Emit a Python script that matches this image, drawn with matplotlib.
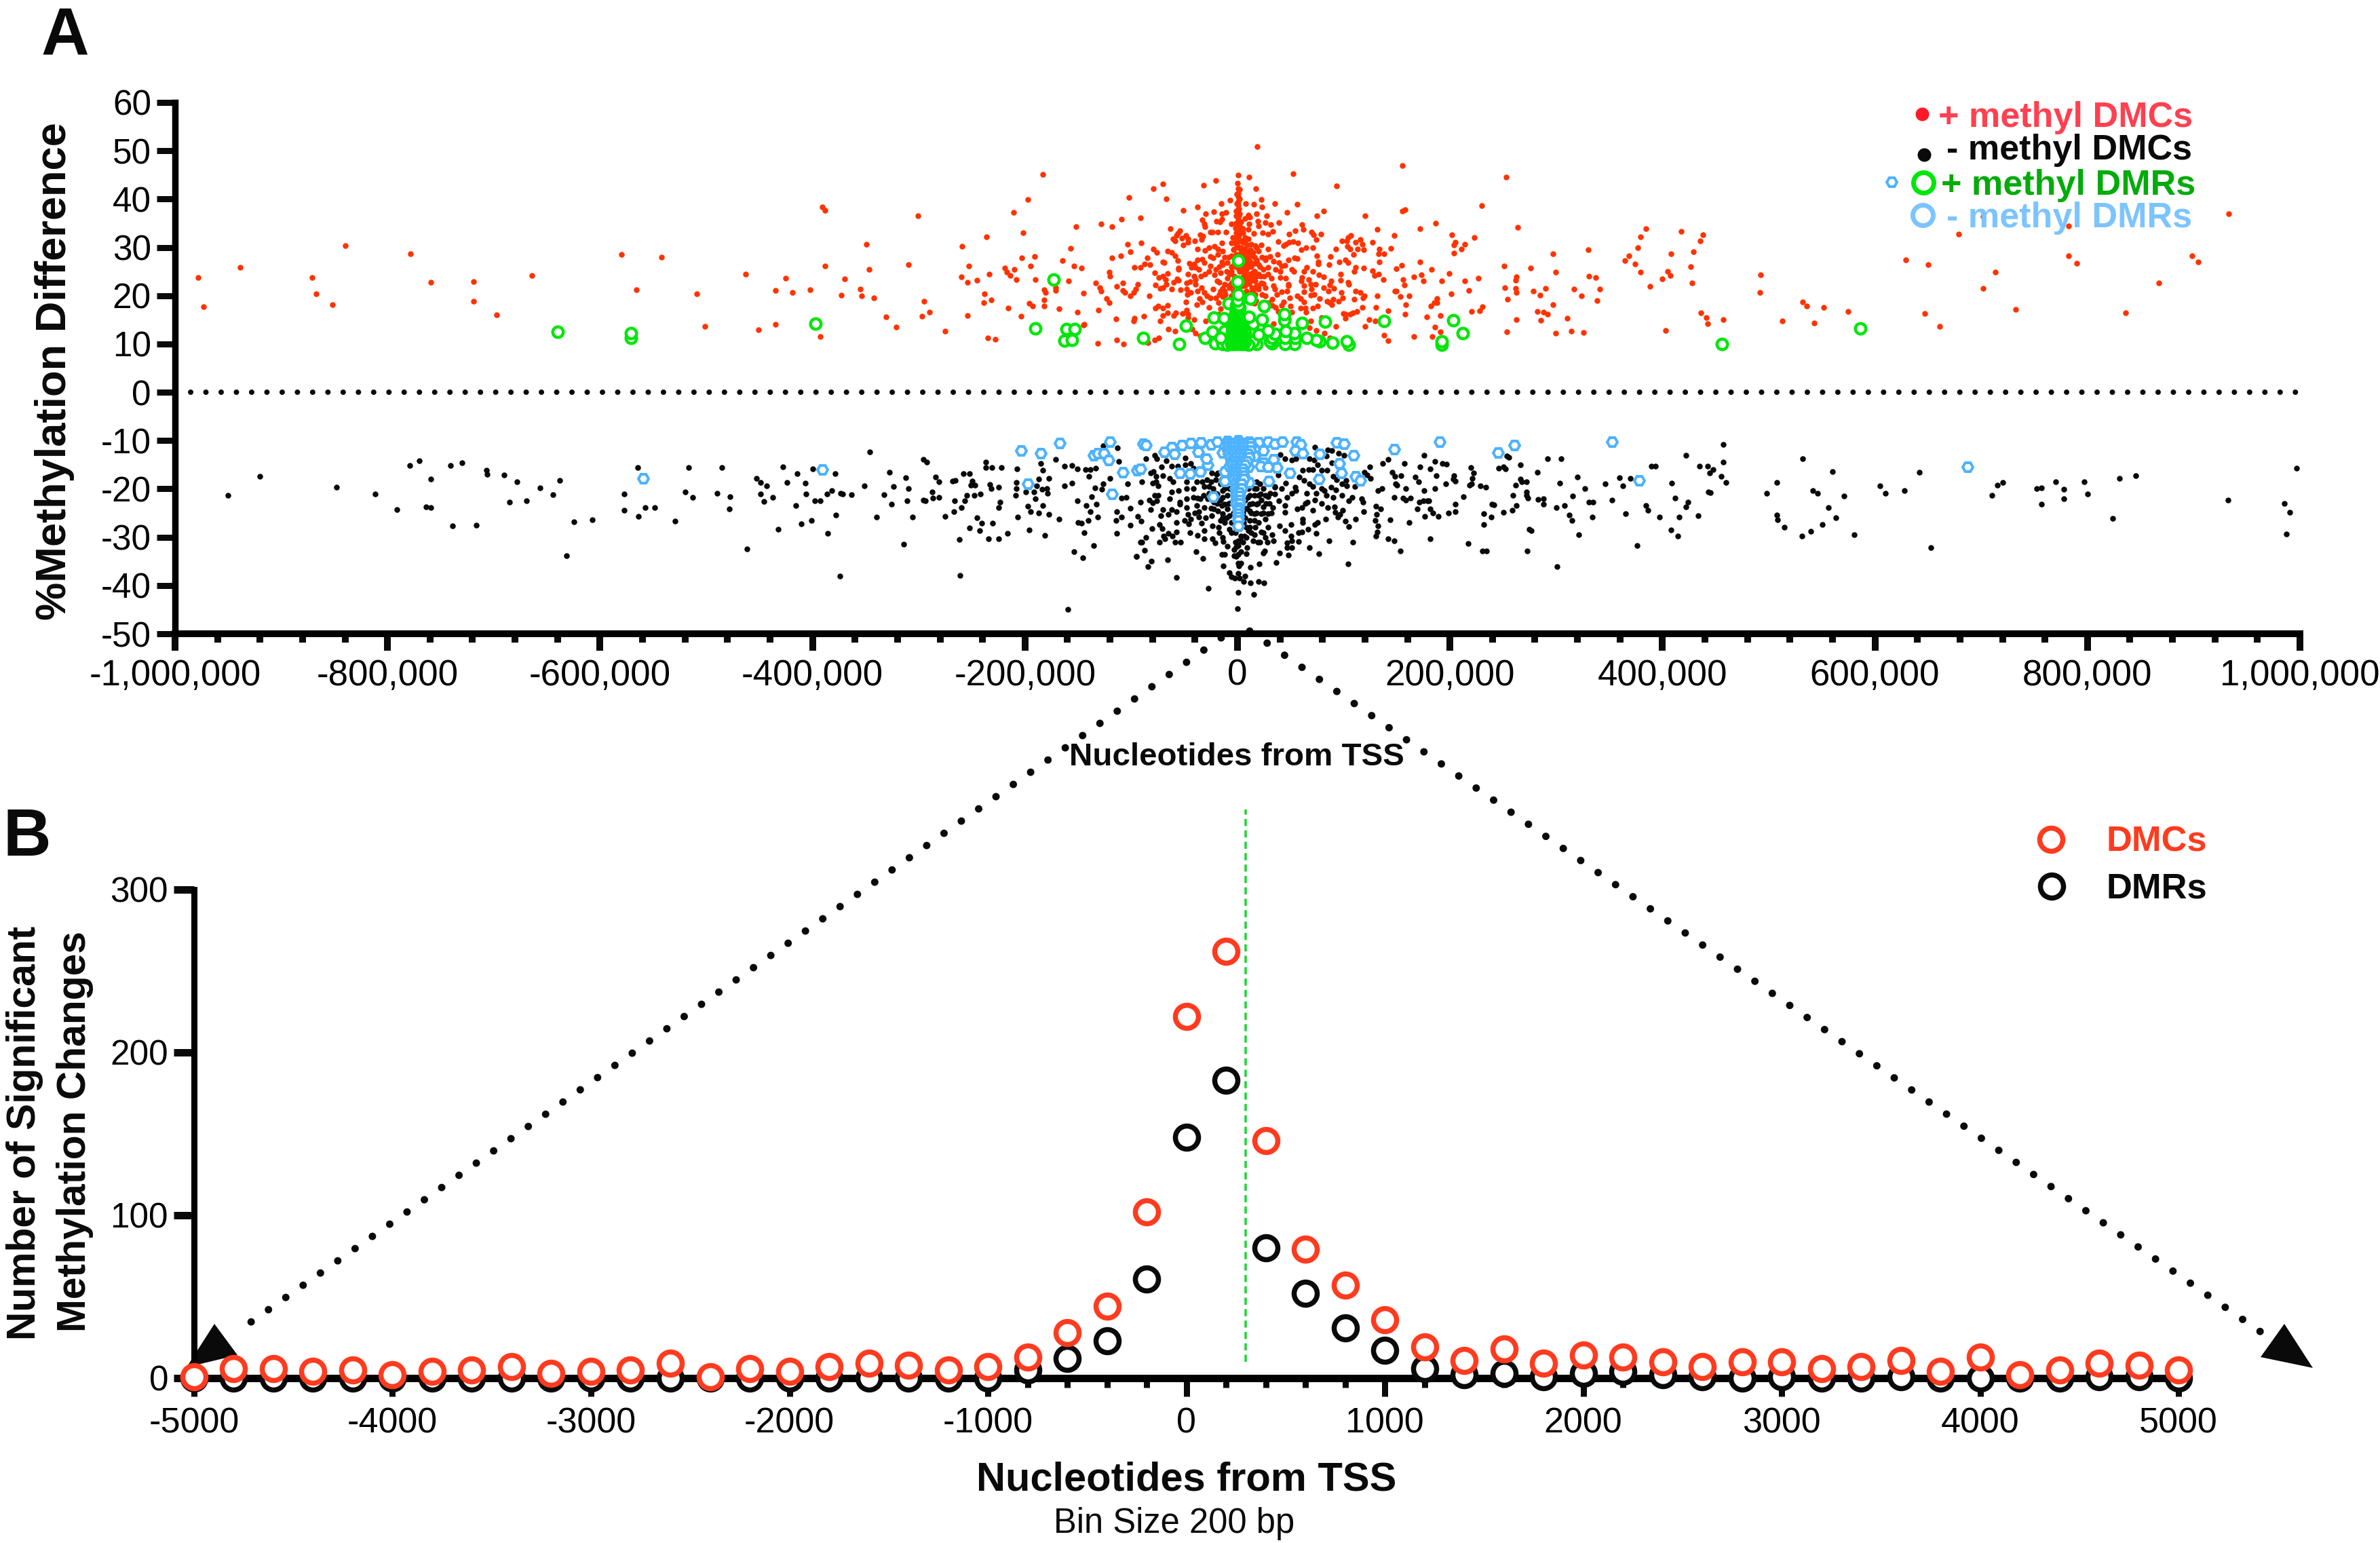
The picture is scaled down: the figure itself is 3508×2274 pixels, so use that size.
"""
Methylation changes around the TSS, two panels.

Panel A: %methylation difference of DMCs and DMRs, panel B: counts in 200 bp bins.
"""

import matplotlib
matplotlib.use("Agg")
import matplotlib.pyplot as plt
import numpy as np
from matplotlib.lines import Line2D
from matplotlib.patches import Polygon

# panel A, (position in thousands of nt, % difference)
up_dmc = [(-978.5,23.7),(-973,17.7),(-938.5,25.8),(-870.7,23.7),(-867,20.4),(-851.6,18.1),(-839.4,30.4),(-778.4,28.7),(-759,22.8),(-719,22.9),(-719,18.9),(-697,16),(-664,24.2),
    (-580,28.6),(-542,28),(-566,21.2),(-509,20.4),(-501,13.6),(-463,24.4),(-451,13),(-435,14),(-435,21.1),(-425,23.6),(-419,20.6),(-402,21.2),(-393,11.5),(-391,38.3),(-388,37.6),(-388,26.1),(-373,20.1),(-370,23.5),(-355,21.4),(-354,19.9),(-349,30.7),(-347,25.4),(-342,19.6),(-331,15.6),(-321,13.5),(-310,26.4),(-301,36.6),(-297,15.7),(-295,18.8),(-290,16.6),(-275,12.6),
    (-259,30.2),(-253,26.1),(-260,23.9),(-254,22.8),(-254,15.9),(-245,23.2),(-238,20.4),(-239,18.6),(-232,19.1),(-236,32.2),(-234,24.5),(-235,11.2),(-228,11),(-216,17.4),(-219,25.7),(-217,24.9),(-214,24.2),(-210,25.5),(-208,23.3),(-211,37.2),(-197,39.9),(-202,33),(-203,27.8),(-204,15.8),(-195,26.2),(-196,18.4),(-193,17.8),(-191,28.1),(-190,23.4),(-183,45.1),(-182,19.1),(-182,17.9),(-182,21.2),(-181,20.7),(-171,21.6),(-171,21.1),(-168,17.3),(-165,27.3),(-159,23.1),(-157,29.8),(-154,26.1),(-152,34.3),(-151,16.6),(-147,25.7),(-145,20.5),(-145,13.9),(-144.5,14.1),
    (-131.8,10.1),(-113.5,10.9),(-107,10),(-84,10.2),(-78,10.8),(-74,11.2),(-131,17),(-114,15.2),(-98,14.8),(-97,15.3),(-88,15.7),(-73,14.7),(-65,13.1),(-59,12.7),(-133.5,22.6),(-129.5,21.6),(-128.5,21),(-123,19.4),(-121,18.5),(-121,24.9),(-120,24.1),(-113.5,21.9),(-108,22.7),(-108,21.1),(-106,20.7),(-101,20),(-98,20.7),(-96,21.3),(-94,22.3),(-83,19.9),(-77,17.5),(-74.4,17.9),(-70,17.5),(-66,18),(-70,15.9),(-66,16.4),(-60,15.9),(-58,16.4),(-52,16.3),(-48.5,18.7),(-48,17),(-46.5,16.1),(-46.5,15.4),(-41,15),(-43,13.1),(-39.5,12.2),(-35,11.7),(-30,14.8),(-27,17.6),(-38,18.2),(-36,19.4),(-33,18.7),(-37.4,20.9),(-34,21.6),(-31,20.6),(-29,19.9),(-25.5,19.6),(-23,21.3),(-20.4,19.6),(-18,18.5),(-16,17.3),(-18,16.1),(-17,20.3),(-14,21.5),(-11.5,20.3),
    (-128.4,34.9),(-118,34.3),(-109,35.8),(-102,40.4),(-91,36.1),(-79.5,42.2),(-70,43.2),(-67,40.1),(-51.4,37.6),(-37.6,38.4),(-31.7,42.8),(-20.6,43.9),(-15.3,39.1),(-7.2,39.8),(-30,37),(-22.5,37.4),(-14.5,37),(-11,37.3),(-33.2,35.7),(-31.5,34.9),(-30.4,34.3),(-15,35.9),(-16.6,35.3),(-20,35.4),(-5.5,34.8),(-63.4,33.9),(-54,33.4),(-56,32.9),(-57.6,32.5),(-60.8,31.7),(-58.7,31.3),(-52.3,31.9),(-48.5,32.4),(-46.6,31.8),(-46.6,31),(-51.2,30.5),(-40,31.3),(-35.3,32.6),(-32.5,32.3),(-33.6,31.6),(-25.7,33.1),(-23.6,33.2),(-18.3,33.1),(-11,33.1),(-103.7,30.6),(-90.6,30.9),(-100.8,29.1),(-109.7,28.3),(-118,27.8),(-85.2,27.8),(-87.4,26.6),(-82.3,26.4),(-97,25.9),(-91.4,25.9),(-79.5,29.7),(-76,29),(-66,29.2),(-62,28.9),(-58.7,28.3),(-56,27.2),(-70.4,27),(-68.7,26.8),(-55.5,25.7),(-55.5,25.4),(-77.8,24.7),(-65.9,24.6),(-70.4,24),(-74,23.8),(-67.5,23.4),(-67,22.4),(-77.4,22.2),(-73,21.5),(-70.4,21.7),(-62,21.4),(-60.2,22.8),(-57,23.5),(-55.5,23.2),(-53.4,21.2),(-48,21.3),(-47.4,20.2),(-43.8,20.7),(-48,22.7),(-44.9,22.9),(-39.5,22.4),(-46.6,24.4),(-40.6,24),(-39.5,23.4),(-34.2,24),(-30.6,24.5),(-45.3,26.7),(-43.2,25.9),(-40.6,26.5),(-39.5,25.9),(-37.4,27.4),(-33.2,27.6),(-36.3,25.5),(-31.5,26.9),(-25.7,26.2),(-25.7,28.1),(-23,27.8),(-18.3,28.5),(-14,29.2),(-37.4,29.7),(-30.6,29.4),(-27,29.9),(-21.5,30.2),(-18.3,29.7),(-15,30.9),(-26.8,25),(-20.4,25.5),(-16.2,24.8),(-21.5,24.3),(-14,26.4),(-9.8,26.9),(-17.2,22.8),(-9.8,23.6),(-11.9,22.4),(-5.5,30.9),(-1.3,30.6),(-4.5,32),(-3.4,29.7),
    (0.6,44.9),(-0.2,43.3),(0.6,42.1),(0.6,41.2),(0.9,40.5),(0.4,39.5),(0.9,38.8),(0.4,38),(0.9,37.2),(1.5,36.5),(0.4,35.7),(1.5,35),(0.4,34.2),(1.9,33.5),(-1,33),(1.5,32.5),(-1.2,32),(2,31.5),(-0.5,31),(1,30),(3,29),(-1,28.5),(1,27.8),(3,27),(-2,26),(1,25.5),(6,27),(8,26.5),(10,27.5),(13,26),(14,24.8),(6,24),(9,23),(3,22),(7,22),(11,22.5),(5,20.5),(9,20.5),(12,20.5),(18,22),(6,29),(10,29),(14,28.5),(-3,24),(-3,22),(-8,22),(-6,20),(-2,20),
    (2,28),(4,27),(6,26),(8,28),(10,26),(12,27),(14,26.5),(16,28),(18,27),(4,30),(7,31),(9,30.5),(12,29.5),(15,29),(2,25),(5,23),(7,25),(10,24),(12,23),(14,24),(16,25),(18,24),(2,21),(5,22),(8,21),(11,20),(14,21),(17,19),(3,26.5),(-2,27),(-4,29.5),(-2,31),(-2,34),(-1,35),(2,34.5),(-1,36.5),(1.5,38),(-0.8,39),(2,33),(-6,26),(-8,28),(-4,23),(-10,25),(-12,28),(-15,27),(-17,26),(-19,23),(-12,21),(-16,21),(-4,21),(20,22),(22,24),(24,22.5),(21,26),(23,28),(18,30),(25,24),(9,19),(13,18.5),(17,21.5),(1.9,42),(-0.8,41),(1.9,40),(-1,37.5),(2.2,37),(-1.5,35),(3,34),
    (10.6,44.5),(17.2,42.2),(18.3,50.9),(52.3,45.3),(93.3,42.7),(22.3,39.9),(22.7,38.4),(7.9,39),(15.3,38.9),(34.9,39),(56.5,38.9),(46.8,37.3),(74.6,36.6),(80.8,37.5),(119.9,36.5),(10.4,36.7),(11.5,36.3),(7.2,36),(17.9,36.9),(27.2,36.6),(19.3,35.4),(19.5,34.5),(10.6,34.8),(26.1,35.2),(31.5,34.7),(39.1,35.2),(10.2,33.7),(15.1,32.9),(23.8,33),(28.5,32.8),(33,33.3),(48.3,32.7),(54.2,33.4),(60.8,34.7),(62.1,33.7),(69.5,33.2),(71.4,32.6),(78.4,32.7),(74,31.6),(38.1,31.2),(43.4,30.3),(45.5,30.6),(48.7,31.1),(52.5,31.2),(56.8,30.9),(64.2,29.9),(60,29.5),(71.2,29.9),(92.5,29.7),(98.2,31.4),(102.5,31.3),(104,32),(106.5,32.5),(110.8,31),(115.6,31.6),(117.5,30.7),(113.3,29.7),(118.6,29.5),(103.3,30.2),(106.3,29.6),(109.5,28.6),(127.3,31.1),(131.6,33.7),(133.7,29.7),(133,28.7),(138,28.7),(74.6,28.2),(87.2,28.1),(86.1,26.4),(75.9,27),(75.7,26.5),(96,27),(101.8,27.4),(104,26.9),(111,25.9),(110,25),(119,25.7),(133.3,27),(127.3,25.2),(133,24.5),(128.8,24.2),(137,23.4),(97.2,24.5),(97,23.2),(104,22.8),(104.6,22.4),(111,20.9),(115.6,20.7),(119.3,20),(118,19.6),(110,19.3),(131.6,19.9),(130.5,17.6),(117.6,17.6),(112.2,16.8),(108.4,16.5),(105.7,16.1),(101.8,16.1),(99.7,16.3),(101.8,15.3),(124,15),(129.5,14.8),(120.1,13.6),(138,11.8),(92.3,13.7),(97.6,20.6),(99,19.5),(95.4,18.9),(88,23),(90.6,21.5),(85.5,21),(80.8,21.7),(86.9,22.2),(84.2,18.9),(87,18.5),(90.1,19.2),(89,18.1),(75.3,17.8),(71,17.5),(77,19.4),(71,25),(76.4,24.3),(81,23.9),(73.6,22.4),(68.9,22.4),(69.9,21.3),(68.9,20.1),(72,20.3),(66.8,23.4),(60.4,23.8),(62.5,25),(65,25.8),(60,23.1),(62.5,22),(62.5,20.8),(56.5,19.9),(59.2,19.4),(62.5,18.7),(59.2,17.5),(63.6,17.5),(64.6,16.6),(68.9,14.8),(67.8,13.3),(74.2,12.8),(82,12.3),(79.5,15.4),(87,11.2),(49.7,17.8),(50.8,16.6),(49.1,19.6),(43.4,18.7),(41.2,18),(35.9,17.6),(32.7,19.2),(32.7,18),(38.1,16.7),(47.6,15.2),(33.8,14.2),(37,20.3),(41.2,20.8),(47.6,22.4),(45.5,23.6),(40.2,23.8),(47.6,22),(31.7,23.6),(33.8,22.1),(34.9,21.3),(46.6,21),(50.8,25.5),(53,25),(45,26.3),(40.2,25),(35.9,25.5),(39.1,26.9),(41.2,26.2),(33.8,27.1),(30.6,28.1),(27,27.8),(47.6,27.4),(53.6,27.8),(56.1,27.7),(37.4,28.6),(28.5,29.7),(22.1,30.5),(16.8,30.4),(20,29.2),(26.4,27.4),(17.9,27.4),(11.5,28.1),(8.3,29.2),(12.5,30.6),(7.2,32),(5.1,31.1),(10.4,31.8),(19.9,26.4),(15.7,26.7),(28.5,25.9),(28.5,24.5),(24.2,25.5),(8.3,25.5),(11.5,24.5),(15.7,25),(13.6,23.6),(19.9,24.5),(22.1,22.7),(16.8,23.1),(13.6,21.7),(19.9,21.3),(26.4,21.7),(23.2,20.3),(16.8,20.3),(7.2,24.1),(4,25),(3,23.6),(-5.5,25),(-7.7,24.5),(-3.4,26.4),(-5.5,28.3),(5.1,28.3),(0.9,30.2),(7.2,29.7),(3,31.3),(-0.2,33),(5.1,33),(5.1,33.9),(3,35.3),(-5.5,22.7),(26.4,19.9),(28.5,18.5),(26.4,17),(22.1,18),(15.7,19.9),(15.7,18.4),(-14,19.8),(-7.7,21.7),
    (155,47),(253,44.6),(230,38.7),(155,37.5),(157.5,37.8),(186.5,35),(171.5,33.8),(147.5,32.5),(202,32.6),(223,32),(263.6,34.1),(205,31),(204,30.5),(214,30.7),(210.5,29.6),(204,28.8),(144.5,29.8),(171.5,27),(154.6,26.3),(149.4,25.6),(182.5,25.4),(199,24.6),(172.8,24.3),(166.3,23.9),(156,23.3),(175,23),(157,22.2),(192,23.1),(214,23.1),(227,23.6),(217.7,21.1),(201.4,20.4),(148.4,20.9),(149.7,20.9),(153.3,19.8),(161.7,19.9),(188,19.4),(188,18.6),(185,18.5),(182,17.8),(158.5,18.1),(158,16.2),(141.6,16.9),(178,15.6),(191,15.9),(220,16.7),(227.8,16.9),(230.7,17.7),(186,13.5),(190.7,12.5),(166,11.6),(183.5,11.6),(141.6,10.7),(251,26.2),(251.9,21.7),(254,19.3),(262,23.2),(262.3,23.9),(262,21.5),(262.6,20.7),(262.6,15),(253.5,12.5),(276,25.7),(278.6,20.9),(284.8,20.1),(289.6,21.5),(297,28.7),(299.4,24.9),(297,18.2),(282.5,16.8),(288,16.6),(292,16.1),(285.4,14.9),(299.7,12.3),(310.5,15.3),(314,12.6),(325.4,12.4),(317,21.4),(324,19.9),(330,29.5),(331,24.1),(337,23.7),(341,21.4),(338.7,19),(364.5,27.2),(368.4,28.3),(374.5,26.5),(379.4,24.9),(377,30),(379.4,32.2),(384.7,33.9),(388,21.9),(400,23.5),(405,25),(407.4,24.2),(408,28.7),(403,12.8),(417.5,33.3),(426.6,26),(429,29.1),(427.6,22.7),(435.7,31.4),(438,32.6),(436,16.4),(441,15.4),(442.3,14.2),(457,15),(492.4,24.3),(492,20.6),(512.9,14.7),(531.7,18.7),(535.7,17.9),(542.5,14.4),(552,17.6),(574.4,16.8),
    (629,27.4),(650,26.4),(647,16.3),(660.7,13.7),(678.7,32.7),(701.8,21.5),(713,24.9),(732.5,17.2),(702,36.4),(782,34.4),(782,28.3),(790,26.7),(836,16.5),(867,22.7),(898.3,28.3),(904.2,27),(932.7,36.9)]

down_dmc = [(-950,-21.3),(-920,-17.4),(-848,-19.6),(-811.6,-21.1),(-791,-24.3),(-779,-15.1),(-770,-14.2),(-764,-23.7),(-759.4,-23.8),(-759.4,-18),(-741,-15.2),(-739,-27.6),(-730,-14.6),(-716.4,-27.5),(-707,-16.1),(-706,-17),(-690.6,-17.1),(-685,-22.7),(-678,-18.5),(-669,-22.5),(-656.4,-19.8),(-644,-21.2),(-638,-18.2),(-631.5,-33.9),(-624.7,-26.8),(-607,-26.4),
    (-577,-21.1),(-577,-24.4),(-564.6,-15.6),(-564,-25.7),(-557.4,-23.9),(-548.3,-23.8),(-529.4,-26.7),(-520,-20.6),(-513,-21.8),(-516.8,-15.6),(-489.7,-20.9),(-485.5,-15.6),(-477.4,-21.6),(-478,-24.2),(-461.4,-32.5),(-453,-17.8),(-448.8,-18.7),(-443.2,-19.4),(-449,-21),(-445.5,-22.6),(-437.7,-21.8),(-432,-28.4),(-427.6,-15.4),(-424,-18.7),(-415.9,-23.4),(-414.3,-16.8),(-410.7,-27.2),(-407,-18.8),(-406.4,-21.1),(-401,-26.6),(-400,-15.8),(-397.7,-22.4),(-392.5,-22.4),(-386.6,-21.1),(-385.6,-29.2),(-381.7,-20.4),(-378.8,-16.9),(-377.8,-25.4),(-374.2,-38.1),(-373.6,-20.9),(-371.6,-21),(-363.5,-21.2),(-351.4,-19.4),(-346.2,-12.3),(-340,-25.9),(-333,-21.2),(-327.7,-16.6),(-325.4,-23.1),(-323.8,-19.5),(-314.3,-31.4),(-312.4,-17.7),(-310.8,-22.4),(-309.8,-20),(-305.9,-25.8),(-295.8,-13.9),(-292.5,-14.4),(-295.5,-22.3),(-293.5,-22.4),(-287.3,-20.6),(-286.4,-21.9),(-284,-17.6),(-280.8,-18.5),(-280.8,-21.7),(-275.3,-25.7),(-268.5,-18.4),(-265.9,-18.3),(-266.5,-22.5),(-267.2,-24.7),(-262,-30.5),(-261.3,-37.9),(-260,-23.8),(-258,-16.8),(-257,-22.4),(-255,-21.4),(-252.5,-16.8),(-252.5,-28.1),(-251.2,-19.2),(-249.6,-18.4),(-247.3,-19.3),(-247.6,-21.4),(-245,-26),(-242.4,-28.6),(-242,-21),(-240.5,-27.1),(-237.2,-14.4),(-236.9,-15.6),(-234.6,-30.4),(-233.3,-19.1),(-232,-19.9),(-231.4,-15.6),(-230.7,-27.1),(-224.9,-19.6),(-224.5,-30.3),(-224.5,-23.9),(-223.2,-22.8),(-222.3,-15.6),(-216.4,-29.2),(-208.9,-21.4),(-208,-18.7),(-208,-20),(-207.3,-15.9),(-206.6,-25.8),(-199.5,-20.6),(-197.2,-23.6),(-195.9,-28.5),(-194.6,-24.7),(-191.7,-20.6),(-190.4,-22),(-189,-19.4),(-187.4,-18),(-186.8,-25),(-185.5,-14.7),(-183.5,-23.4),(-183.5,-16.2),(-181.6,-29.6),(-184,-20.1),(-179.3,-19.9),(-179,-20.9),(-177.7,-17.8),(-177.7,-25.3),(-171.2,-13.9),(-168.2,-26.2),(-162.7,-15.3),(-162.7,-19.4),(-159.8,-44.9),(-155.9,-15.1),(-155.9,-18.8),(-154.2,-33),(-151,-15.8),(-151,-22.5),(-150,-27),(-146.8,-27.1),(-145.8,-34.2),(-144.5,-29),(-143.2,-16),(-138.6,-16),(-140,-17.4),(-142.5,-23.4),(-140.6,-26.5),(-138.6,-24.7),(-137,-21.6),(-135.4,-31.7),(-133.7,-15.7),(-134.4,-19.8),(-133,-23.2),(-131.8,-25.9),(-127.6,-20.1),(-126.6,-18.9),(-126.6,-11.1),(-120,-17.8),(-113.9,-24.7),(-114.5,-26.6),(-113.9,-29.2),(-112.9,-11.5),(-111.6,-14.3),(-109.3,-21.9),(-109.3,-25.9),(-104.8,-21.8),(-103.5,-18.9),(-101.2,-27.5),(-100.9,-24),(-95.3,-34),(-93.7,-25.7),(-91.4,-31),
    (-85.9,-13.7),(-77.8,-13),(-75.7,-13.7),(-67.2,-14.2),(-71.4,-15.5),(-82,-16.7),(-78.9,-16.4),(-76.7,-17.4),(-70.4,-17.2),(-64,-17.8),(-60.8,-18.5),(-80,-18.8),(-76.7,-18.5),(-74.6,-19.4),(-90,-18.6),(-62.2,-15.3),(-56.5,-15.3),(-49,-13.6),(-49,-15),(-43.8,-14.8),(-41.7,-15.7),(-61.9,-20.7),(-55.5,-20.4),(-48,-20),(-41.7,-20),(-48,-18.5),(-38.5,-18.5),(-77.8,-21.3),(-74.6,-21.3),(-83,-22.3),(-75.7,-22.5),(-80,-22.9),(-91,-22.7),(-63.6,-22),(-54.4,-22.8),(-54,-23.2),(-48,-22),(-41.7,-21.8),(-37.4,-21.9),(-32,-21.4),(-82,-24.3),(-70,-24.3),(-48,-23.9),(-57.6,-24.7),(-61.9,-24.3),(-65,-25.3),(-71.9,-25.5),(-38.5,-23.5),(-36.3,-24.7),(-31,-23.8),(-46.3,-25.3),(-43.8,-26.3),(-49.7,-26.6),(-57.2,-26.9),(-45.9,-27.2),(-36.3,-25.8),(-33.6,-27.1),(-24,-25.5),(-90.6,-26.7),(-73.6,-27.4),(-70.8,-28.2),(-80.4,-28.2),(-57.6,-28.9),(-65,-29.2),(-61.2,-29.8),(-44.4,-29),(-69.3,-29.8),(-68.2,-30.3),(-86.3,-30),(-89.9,-31),(-73.6,-31),(-58.7,-31.1),(-53.4,-31),(-37.4,-29.6),(-31,-28.6),(-31.5,-30.3),(-23.6,-27.7),(-23.6,-30.3),(-20.8,-31.2),(-14,-30),(-13.6,-30.9),(-7.7,-28.4),(-9.8,-31.9),(-87.4,-32.7),(-95.2,-34),(-81,-35),(-84.6,-36.1),(-65.5,-34.7),(-38.7,-33),(-32.7,-34.4),(-57.6,-38.4),(-27.6,-40.6),(-14.7,-33.6),(-11.9,-33.6),(-13.4,-35.9),(-3.4,-32.6),(-3.4,-33.8),(0.9,-31.7),(0.9,-30.7),(3,-29.8),(0.9,-33.5),(0.9,-35.4),(3,-35.4),(-7.7,-37.3),(0.9,-37.5),(-5.5,-38.2),(-2.3,-38.5),(1.9,-38.5),(7.2,-38.1),(5.5,-39.2),(11.9,-39.4),(19.6,-39.2),(24.7,-39.4),(0.4,-41.4),(15.5,-41.8),(0.2,-44.8),(12.1,-36.3),(20.4,-35.6),(36.4,-35.3),(8.9,-32.1),(8.3,-33.4),(25.3,-32.8),(24.2,-33.3),(39.3,-33.3),(47.6,-33.7),(46.6,-31.2),(50.8,-30.7),(46.6,-32.1),(50.8,-32.1),(57.2,-30.9),(67.8,-32.1),(76.5,-33.4),(104.4,-35.6),(86.5,-30.8),(108.4,-31.1),(14.7,-30.7),(18.9,-31.1),(33.8,-30.8),(32.7,-29.5),(26.4,-30),(28.5,-27.9),(22.1,-28.9),(16.8,-27.9),(10.4,-28.6),(6.2,-29.8),(39.3,-27.6),(45,-28.6),(50.2,-27.4),(50.2,-29.7),(57.2,-29),(60.4,-28.9),(66.1,-28.3),(73.8,-29.2),(73.1,-27.4),(75.3,-27),(61.4,-26.3),(61.4,-27),(83.3,-26.2),(94.4,-25.8),(96.5,-25.3),(99.1,-24.4),(101.8,-26.7),(105,-27.8),(110.8,-26.2),(118.6,-24.7),(85,-23.9),(91.2,-23.7),(91.8,-24.9),(79.5,-23),(71,-24.5),(63.6,-23),(60.4,-23.9),(56.1,-24.2),(44.4,-23.5),(44.4,-24.8),(33.4,-23.8),(28.5,-25.1),(26.4,-26.3),(22.1,-25.1),(15.7,-25.1),(11.5,-24.6),(11.5,-26.5),(39.1,-22.4),(46.6,-21.7),(50.8,-20.9),(55.1,-20.4),(65.3,-20.9),(74.2,-20.9),(73.1,-22.3),(65.7,-22.8),(83.8,-21.4),(90.1,-21.8),(98.6,-21.4),(107.6,-21.8),(105,-22.5),(116.8,-22),(118,-22.8),(79.5,-20),(81.6,-20.4),(88,-19.7),(92.3,-20.2),(110.3,-19.5),(98.6,-19),(102.9,-19.4),(102.3,-18.2),(45.5,-18.8),(41.2,-20),(34.9,-19.7),(34.9,-21.1),(28.5,-21.6),(22.1,-22.3),(15.7,-21.4),(9.4,-21.8),(11.5,-23.2),(58.2,-17.6),(62.5,-18.3),(67.8,-19),(71,-19.5),(54,-19.7),(61.4,-16.2),(66.8,-16),(71,-16),(75.3,-15),(79.5,-16.2),(84.4,-16.2),(90.1,-17.4),(93.3,-18.1),(89,-14.6),(73.1,-11.4),(84.8,-11.9),(89,-12.1),(95.4,-12.7),(100.1,-13.1),(83.8,-13.2),(67.8,-13.8),(72,-14),(50.8,-14),(55.1,-13.8),(44.9,-13.7),(40.2,-12.9),(38,-17.1),(119.5,-16.5),(124.6,-15.5),(122,-17.1),(125.2,-17.8),(136.9,-14.7),(132.2,-20.4),(135.8,-20),(130.5,-23.6),(134.8,-24.2),(130.9,-25.3),(129.5,-26.6),(132.2,-27.7),(131.6,-28.9),(130.5,-29.7),
    (-24,-16.7),(-18.3,-16.7),(-20.4,-18.1),(-24.7,-18.5),(-16.2,-19),(-14,-20.4),(-9.8,-21.4),(-16.2,-22.3),(-11.9,-23.2),(-5.5,-22.8),(-9.8,-24.2),(-14,-25.1),(-18.3,-24.6),(-7.7,-25.6),(-22.5,-22.8),(-26.8,-20.9),(-31,-19.5),(-33.2,-18.5),(-29,-18.1),(-26.8,-19.5),(-20.4,-20.9),(-14,-21.8),(-22.5,-24.2),(-7.7,-20),(-5.5,-18.5),(11.5,-18.1),(17.9,-18.5),(24.2,-20),(15.7,-20),(11.5,-21.4),(19.9,-21.4),(26.4,-21.4),(30.6,-20.9),(34.9,-19.5),(7.2,-22.3),(7.2,-24.2),(7.2,-26),(17.9,-23.2),(24.2,-23.7),(15.7,-26.5),(-11.9,-27),(-14,-26),(-5.5,-27),(11.5,-27.9),(3,-30.7),(-1.3,-28.4),
    (-20,-17),(-15,-18),(-11,-19),(-8,-17),(-4,-20),(-3,-23),(-4,-25),(-2,-26),(-8,-23),(-12,-20),(-15,-23.5),(-19,-21),(-23,-20),(-19,-23),(-16,-26.5),(-10,-26),(-6,-29),(-4,-27),(-2,-29),(-2,-31),(2,-27),(3,-26),(3,-28),(5,-25),(6,-27),(8,-28),(9,-24),(10,-20),(13,-19),(14,-23),(18,-20),(21,-19),(22,-21),(19,-23),(13,-25),(18,-25),(20,-27),(24,-25),(27,-23),(30,-23),(32,-25),(8,-30),(5,-31),(3,-33),(-1,-34),(1,-36),(-1,-32),(13,-29),(16,-29.5),(21,-31),(24,-29),(28,-31),(-18,-28),(-25,-24),(-28,-22),(-30,-26),(-35,-22),(-40,-25),(-17,-29),
    (141.9,-13.9),(157.2,-14.8),(145.5,-16.5),(148,-17.4),(153.6,-17.3),(149,-18.9),(150.3,-19.3),(158.5,-19.9),(147.7,-21.7),(155.5,-21.9),(158.5,-22.3),(162.7,-21.9),(167,-17.6),(170.5,-18.5),(171.8,-15.4),(175.4,-13),(175.4,-20.4),(171.2,-22.8),(175,-22.5),(178.7,-22.4),(180.3,-22.5),(169.2,-24.2),(181.3,-24.1),(184.2,-25),(176,-25.7),(189,-25.7),(198.8,-25),(205.3,-24.7),(204.7,-23.2),(161.7,-27),(143.8,-26.4),(141.9,-30.4),(147.4,-30.8),(153,-32.8),(181.3,-30.4),(181.3,-15.8),(185.8,-14.3),(193,-14.7),(196.9,-14.9),(186.8,-17.3),(185.8,-20),(196,-18.9),(203.7,-17.3),(203,-18),(205,-18.4),(212.5,-21.6),(219.7,-15.6),(222,-16.7),(221,-17.8),(220,-18.9),(218.4,-19.3),(228.4,-19.4),(233.6,-19.6),(217.4,-31.3),(230.4,-32.8),(234.6,-32.8),(232,-27.4),(231.7,-25.2),(238.9,-25.8),(239.2,-23.2),(241.5,-23.3),(246,-15.7),(250.3,-15.4),(252.5,-15.9),(253.8,-13.2),(255.4,-13.5),(250.3,-24.9),(259,-21.4),(258.7,-24.5),(262.3,-23.5),(262,-19.2),(266.2,-15),(266.6,-18),(267.5,-18.5),(272,-18.5),(272,-20.6),(272,-21.4),(273,-21.9),(274.3,-28.4),(276.3,-28.6),(272.4,-32.8),(282,-16.6),(282.8,-22.2),(288.3,-22),(288.3,-23.1),(292,-13.7),(300,-23.9),(300.7,-36.1),(303.6,-18.8),(304.3,-13.7),(307.8,-23.4),(312.4,-25.4),(314.7,-26.5),(315.3,-21.5),(320.2,-17.5),(320.9,-29.5),(327,-20),(330.6,-22.7),(334.5,-22.8),(333.9,-25.9),(346.3,-19),(352.4,-22.3),(359.3,-17.7),(362.5,-19.4),(365.4,-25.1),(369.7,-17.8),(375.9,-31.7),(384.7,-23.5),(386.6,-24.5),(389.8,-15.3),(393.4,-15.3),(397.3,-25.9),(408,-28.5),(408.7,-18.8),(412,-21.9),(414.6,-29.7),(415.5,-25.9),(422,-13.1),(422.4,-23.7),(424,-22.7),(433.5,-25.5),(434.8,-15.3),(442.6,-15.3),(443.2,-20.6),(445.2,-20.8),(444.5,-16.7),(447.8,-16),(455.6,-17.4),(456.9,-14.5),(457.2,-10.8),(459.5,-18.7),(498.2,-20.9),(507.6,-18.7),(507.9,-25.4),(508.6,-26.4),(514.5,-28),(531.4,-29.7),(532,-13.7),(539.6,-28.8),(541.5,-20.4),(545.7,-20.9),(550.6,-27.4),(556.5,-23.8),(560,-16.4),(563,-26),(571,-21.5),(580.5,-29.5),(605,-19.4),(609.8,-20.9),
    (628,-20.4),(641.6,-16.6),(652.5,-32.1),(710,-21.4),(714.9,-19.3),(720.3,-18.7),(752,-20),(756.4,-19.8),(756.4,-23.2),(770.4,-18.6),(778,-20.1),(778,-22),(797,-18.5),(800.3,-21),(824,-26.1),(830,-17.8),(845.5,-17.3),(932.3,-22.3),(985.1,-23),(990.5,-24.8),(987.4,-29.4),(996.9,-15.7)]

up_dmr = [(-640,12.5),(-571,11.3),(-571,12.3),(-397,14.2),(-190,13.2),(-173,23.3),(-163,10.7),(-156,10.8),(-161,13.1),(-153,13.1),(-89,11.3),(-54.6,10),(-48.7,13.8),(-30.8,11.3),(-21.3,10.1),(-23.6,12.5),(-22.5,15.5),(-13,15.3),(-12.3,12.6),(-14,10),(-8,18.4),
    (104.6,9.8),(102.9,10.6),(89.5,10.2),(77.4,10.5),(74.2,10.9),(65.3,11.2),(53.6,10),(54,11.2),(53.6,12.3),(44.4,10),(44.4,11.2),(45.5,12.6),(32.3,10.1),(30.6,10.5),(32.7,11.2),(35.3,12.1),(28.9,12.8),(17.9,10),(14.7,10.5),(10.4,9.8),(7.2,10.5),(7.2,12.4),(20,11.9),(-9.8,9.8),(-16.2,11.2),(60.8,14.3),(82.5,14.6),(138,14.8),(44,14.9),(43.8,16.2),(14.7,14.2),(22.7,15),(24.7,17.8),
    (-6,10),(-3,10),(0,10),(3,10),(6,10),(-6,10.5),(-3,10.5),(0,10.5),(3,10.5),(6,10.5),(-5,11),(-2.5,11),(0,11),(2.5,11),(5,11),(-6,11.5),(-3,11.5),(0,11.5),(3,11.5),(6,11.5),(-4,12),(-2,12),(0,12),(2,12),(4,12),(-5,12.5),(-2,12.5),(1,12.5),(4,12.5),(-3,13),(-1,13),(1,13),(3,13),(-5,13.5),(-2,13.5),(1,13.5),(4,13.5),(-3,14),(-1,14),(1,14),(3,14),(-4,14.5),(-1,14.5),(2,14.5),(-2,15),(0,15),(2,15),(-3,15.5),(0,15.5),(3,15.5),(-2,16),(0,16),(2,16),(-2,16.5),(1,16.5),(-1,17),(1,17),(-1,17.5),(2,17.5),(-1,18),(1,18),(0,19),(11,15.6),(12.3,19.4),(0.4,20.3),(-0.2,22.9),(0.6,27.3),
    (203,14.9),(212,12.3),(192,9.8),(192,10.5),(456,10),(586,13.2)]

down_dmr = [(-559.4,-17.8),(-390.5,-16),(-203.7,-12.1),(-185,-12.7),(-197,-18.9),(-167.3,-10.5),(-120.3,-10.3),(-88.9,-10.6),(-85.9,-11),(-61.9,-11.3),(-68.9,-12.3),(-59.7,-12.8),(-52.3,-10.9),(-44.2,-10.5),(-34.7,-10.4),(-25,-10.8),(-19,-10.3),(-9.4,-10.1),(0.6,-10),(11,-10.2),(19.9,-10.4),(28.5,-10.2),(34.9,-10.6),(41.9,-10.3),(55.7,-10.2),(59.3,-10.8),(54.4,-12),(61.4,-12.7),(93.3,-10.4),(100.3,-10.6),(109.5,-13),(77.4,-12.8),(96.1,-14.8),(98,-16.7),(110.8,-17.4),(115.6,-18.3),(76.7,-18),(49.3,-16.7),(29.1,-18.4),(10.6,-18.7),(-12.1,-18.4),(-23,-21.6),(-118.2,-21.1),(-107.6,-16.5),(-94.8,-16.1),(-91,-15.8),(-54,-16.7),(-44.9,-16.9),(-34.9,-16.4),(-27.8,-15),(-29.3,-13.7),(-37,-12.3),(-135.2,-13),(-131.6,-12.7),(-125.6,-12.6),(-121.4,-14.1),(24.2,-14.6),(24.2,-12),(33.8,-13.9),(37,-15.6),(22,-15.3),(28.5,-15.5),
    (15.7,-11.8),(15.7,-13.2),(-14,-12.5),(-11.9,-16.4),(-7.7,-15.3),(10.4,-15.5),
    (-9,-10.5),(-6,-10.5),(-3,-10.5),(0,-10.5),(3,-10.5),(6,-10.5),(9,-10.5),(12,-10.5),(-9,-11.2),(-6,-11.2),(-3,-11.2),(0,-11.2),(3,-11.2),(6,-11.2),(9,-11.2),(12,-11.2),(-9,-12),(-6,-12),(-3,-12),(0,-12),(3,-12),(6,-12),(9,-12),(12,-12),(-8,-12.8),(-5,-12.8),(-2,-12.8),(1,-12.8),(4,-12.8),(7,-12.8),(10,-12.8),(-7,-13.5),(-4,-13.5),(-1,-13.5),(2,-13.5),(5,-13.5),(8,-13.5),(11,-13.5),(-6,-14.3),(-3,-14.3),(0,-14.3),(3,-14.3),(6,-14.3),(9,-14.3),(-5,-15),(-2,-15),(1,-15),(4,-15),(7,-15),(-4,-15.8),(-1,-15.8),(2,-15.8),(5,-15.8),(-4,-16.5),(-1,-16.5),(2,-16.5),(5,-16.5),(-3,-17.2),(0,-17.2),(3,-17.2),(6,-17.2),(-3,-18),(0,-18),(3,-18),(6,-18),(-2,-19),(1,-19),(4,-19),(-2,-20),(1,-20),(4,-20),(-1,-20.8),(2,-20.8),(-1,-21.5),(2,-21.5),(-1,-22.3),(2,-22.3),(-1,-23),(2,-23),(0.4,-23.8),(0.4,-24.4),(0.4,-25.1),(0.4,-25.8),(0.4,-26.6),(0.4,-27.7),
    (147.2,-11.8),(190,-10.3),(245,-12.5),(260.4,-11),(352.7,-10.3),(378.2,-18.3),(615.7,43.5),(687.3,-15.5)]

# panel B, counts per 200 bp bin
bin_starts = list(range(-5000, 5001, 200))
dmc_counts = [1,6,6,4,5,2,4,5,7,3,4,5,9,1,6,4,7,9,8,5,7,13,28,44,102,222,262,146,79,57,36,19,11,18,9,14,13,10,7,10,10,6,7,11,4,13,2,5,9,8,5]
dmr_counts = [0,0,0,0,0,0,0,0,0,0,0,0,0,0,0,0,0,0,0,0,0,5,12,23,61,148,183,80,52,31,17,6,2,3,1,3,4,2,1,0,1,0,0,1,0,0,0,0,1,1,0]

W, H = 3508, 2274
DPI = 300
PX = 72 / DPI   # one picture pixel in points
FONT = "Liberation Sans"

plt.rcParams["font.family"] = [FONT, "DejaVu Sans"]

RED = "#ff3300"
BLACK = "#0a0a0a"
GREEN = "#00e60a"
BLUE = "#4db2ff"


def fx(x):
    return x / W


def fy(y):
    return 1 - y / H


def make_axes(left, top, right, bottom):
    ax = fig.add_axes([fx(left), fy(bottom), (right - left) / W, (bottom - top) / H], zorder=1)
    ax.patch.set_alpha(0)
    for side in ("top", "right"):
        ax.spines[side].set_visible(False)
    return ax


fig = plt.figure(figsize=(W / DPI, H / DPI), dpi=DPI, facecolor="white")

# panel A
ax_a = make_axes(258, 151, 3390, 934)
ax_a.set_xlim(-1000000, 1000000)
ax_a.set_ylim(-50, 60)
ax_a.plot([-985000, 1000000], [0, 0], color=BLACK, lw=8 * PX, ls=(0, (0.01, 2.8)),
          dash_capstyle="round", zorder=1.5)


def scatter(ax, points, **style):
    pts = np.array(points, dtype=float)
    ax.plot(pts[:, 0] * 1000, pts[:, 1], ls="none", clip_on=False, **style)


scatter(ax_a, up_dmc, marker="o", ms=8.5 * PX, mfc=RED, mec="none", zorder=3)
scatter(ax_a, down_dmc, marker="o", ms=8.5 * PX, mfc=BLACK, mec="none", zorder=3.1)
scatter(ax_a, up_dmr, marker="o", ms=15.5 * PX, mfc="white", mec=GREEN, mew=4.5 * PX, zorder=3.2)
scatter(ax_a, down_dmr, marker="H", ms=15 * PX, mfc="white", mec=BLUE, mew=4 * PX, zorder=3.3)

ax_a.spines["left"].set_linewidth(9.5 * PX)
ax_a.spines["bottom"].set_linewidth(10 * PX)
ax_a.set_xticks(np.arange(-1000000, 1000001, 200000))
ax_a.set_xticklabels([f"{v:,}" for v in range(-1000000, 1000001, 200000)])
ax_a.set_xticks(np.arange(-1000000, 1000001, 40000), minor=True)
ax_a.set_yticks(np.arange(-50, 61, 10))
ax_a.tick_params(axis="x", which="major", length=25 * PX, width=10 * PX, labelsize=12.7, pad=12 * PX, color=BLACK)
ax_a.tick_params(axis="x", which="minor", length=13 * PX, width=10 * PX, color=BLACK)
ax_a.tick_params(axis="y", which="major", length=27 * PX, width=9 * PX, labelsize=12.3, pad=8 * PX, color=BLACK)

# panel B
ax_b = make_axes(286, 1311, 3211, 2031)
ax_b.set_xlim(-5000, 5000)
ax_b.set_ylim(0, 300)
ax_b.plot([300, 300], [10, 349], color="#19d830", lw=3.5 * PX, ls=(0, (3, 1.8)), clip_on=False, zorder=1.5)
ax_b.plot(bin_starts, dmr_counts, ls="none", marker="o", ms=34 * PX, mfc="white", mec=BLACK, mew=7.5 * PX,
          clip_on=False, zorder=3)
ax_b.plot(bin_starts, dmc_counts, ls="none", marker="o", ms=34 * PX, mfc="white", mec="#ff3b1f", mew=7.5 * PX,
          clip_on=False, zorder=3.1)
ax_b.spines["left"].set_linewidth(9 * PX)
ax_b.spines["bottom"].set_linewidth(11 * PX)
ax_b.set_xticks(np.arange(-5000, 5001, 1000))
ax_b.set_xticks(np.arange(-5000, 5001, 200), minor=True)
ax_b.set_yticks([0, 100, 200, 300])
ax_b.tick_params(axis="x", which="major", length=27 * PX, width=9 * PX, labelsize=12.5, pad=15 * PX, color=BLACK)
ax_b.tick_params(axis="x", which="minor", length=14 * PX, width=9 * PX, color=BLACK)
ax_b.tick_params(axis="y", which="major", length=30 * PX, width=11 * PX, labelsize=12.3, pad=8 * PX, color=BLACK)
# plain hyphens on the tick labels, like the original
ax_b.xaxis.set_major_formatter(lambda v, pos: f"{int(v)}")
ax_a.yaxis.set_major_formatter(lambda v, pos: f"{int(v)}")

# dotted guides and arrow heads running from panel A down to panel B
for (x0, y0), (x1, y1) in [((1800, 940), (359, 1956)), ((1842, 930), (3341, 1969))]:
    fig.add_artist(Line2D([fx(x0), fx(x1)], [fy(y0), fy(y1)], color=BLACK, lw=11 * PX,
                          ls=(0, (0.01, 2.83)), dash_capstyle="round", zorder=0.5))
for tri in [[(316, 1951), (350, 1997), (275, 2015)], [(3367, 1951), (3332, 2000), (3409, 2016)]]:
    fig.add_artist(Polygon([(fx(x), fy(y)) for x, y in tri], closed=True, facecolor=BLACK, edgecolor="none",
                           transform=fig.transFigure, zorder=0.5))


def label(x, y, text, size, bold=True, color=BLACK, ha="center", rotation=0):
    fig.text(fx(x), fy(y), text, fontsize=size, fontweight="bold" if bold else "normal", color=color,
             ha=ha, va="center", rotation=rotation, rotation_mode="anchor" if rotation else "default")


label(96, 55, "A", 23.5)
label(40, 1235, "B", 23.5)
label(81, 547, "%Methylation Difference", 15.2, rotation=90)
label(1823, 1116, "Nucleotides from TSS", 11.4)
label(1749, 2181, "Nucleotides from TSS", 14.3)
label(1731, 2245, "Bin Size 200 bp", 12.2, bold=False)
label(37, 1670, "Number of Significant", 14.1, rotation=90)
label(111, 1668, "Methylation Changes", 14.1, rotation=90)

# legend of panel A
label(2857, 173, "+ methyl DMCs", 12.5, color="#ff4050", ha="left")
label(2869, 222, "- methyl DMCs", 12.5, ha="left")
label(2861, 273, "+ methyl DMRs", 12.5, color="#00ab0a", ha="left")
label(2869, 321, "- methyl DMRs", 12.5, color="#7cc4ff", ha="left")
fig.add_artist(Line2D([fx(2833)], [fy(168)], marker="o", ms=20 * PX, mfc="#ff1a2a", mec="none", zorder=5))
fig.add_artist(Line2D([fx(2836)], [fy(228)], marker="o", ms=20 * PX, mfc=BLACK, mec="none", zorder=5))
fig.add_artist(Line2D([fx(2835)], [fy(269)], marker="o", ms=30 * PX, mfc="white", mec=GREEN, mew=7 * PX, zorder=5))
fig.add_artist(Line2D([fx(2834)], [fy(317)], marker="o", ms=30 * PX, mfc="white", mec="#7cc4ff", mew=7 * PX, zorder=5))

# legend of panel B
label(3105, 1241, "DMCs", 12.6, color="#ff3b1f", ha="left")
label(3105, 1310, "DMRs", 12.6, ha="left")
fig.add_artist(Line2D([fx(3023)], [fy(1237)], marker="o", ms=34 * PX, mfc="white", mec="#ff3b1f", mew=7.5 * PX, zorder=5))
fig.add_artist(Line2D([fx(3024)], [fy(1306)], marker="o", ms=34 * PX, mfc="white", mec=BLACK, mew=7.5 * PX, zorder=5))

fig.savefig("out.png", dpi=DPI)
